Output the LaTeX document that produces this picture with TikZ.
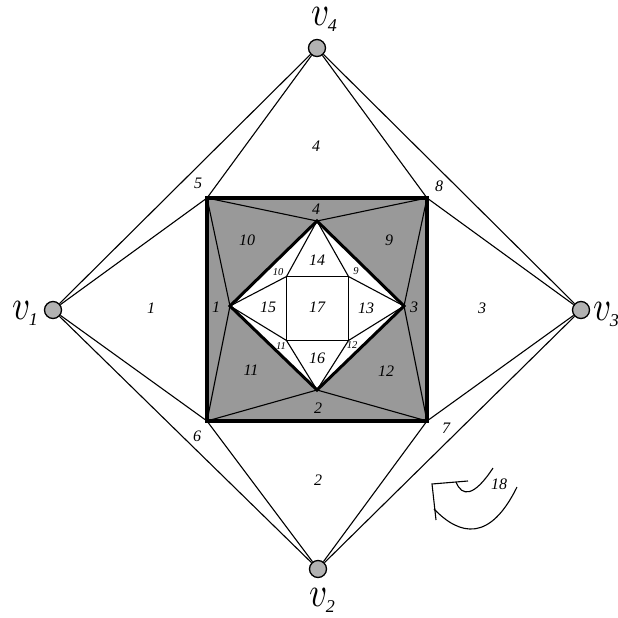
\documentclass[tikz,border=0pt]{standalone}
\usepackage{fontspec}
\setmainfont{Liberation Serif}
\usepackage{graphicx}
\usepackage{tikz}
\usetikzlibrary{positioning}

\newcommand{\vname}[1]{\scalebox{3.5}[4.2]{$v$}\kern-1.5pt\raisebox{-6pt}{\fontsize{18}{20}\selectfont\itshape #1}}

\begin{document}
\begin{tikzpicture}[
    x=1pt, y=-1pt,
    vert/.style={circle, draw=black, fill=black!30, line width=1.3pt,
                 inner sep=0pt, minimum size=17pt},
    link/.style={line width=1.1pt},
    heavy/.style={line width=3.4pt, line join=miter},
    face/.style={inner sep=0pt, font=\fontsize{16}{18}\selectfont\itshape},
    small face/.style={inner sep=0pt, font=\fontsize{10.5}{12}\selectfont\itshape},
    vlabel/.style={inner sep=0pt, anchor=base west}
  ]
  \useasboundingbox (0,0) rectangle (618,618);

  \coordinate (tl) at (207,198);
  \coordinate (tr) at (427,198);
  \coordinate (br) at (427,421);
  \coordinate (bl) at (207,421);

  \coordinate (dt) at (317,221);
  \coordinate (dl) at (230,306);
  \coordinate (dr) at (404,306);
  \coordinate (db) at (317,390);

  \coordinate (stl) at (286.5,276.5);
  \coordinate (str) at (348.5,276.5);
  \coordinate (sbr) at (348.5,340.5);
  \coordinate (sbl) at (286.5,340.5);

  % shaded ring
  \fill[black!40, even odd rule] (tl) -- (tr) -- (br) -- (bl) -- cycle
    (dt) -- (dr) -- (db) -- (dl) -- cycle;

  \node[vert] (v1) at (53,310) {};
  \node[vert] (v2) at (318,569) {};
  \node[vert] (v3) at (581,310) {};
  \node[vert] (v4) at (317,48) {};

  % outer edges
  \draw[link] (v1) -- (v4);
  \draw[link] (v1) -- (tl);
  \draw[link] (v4) -- (tl);
  \draw[link] (v4) -- (tr);
  \draw[link] (v4) -- (v3);
  \draw[link] (v3) -- (tr);
  \draw[link] (v3) -- (br);
  \draw[link] (v3) -- (v2);
  \draw[link] (v2) -- (br);
  \draw[link] (v2) -- (bl);
  \draw[link] (v2) -- (v1);
  \draw[link] (v1) -- (bl);

  % ring edges
  \draw[link] (tl) -- (dt);
  \draw[link] (tr) -- (dt);
  \draw[link] (tl) -- (dl);
  \draw[link] (bl) -- (dl);
  \draw[link] (tr) -- (dr);
  \draw[link] (br) -- (dr);
  \draw[link] (bl) -- (db);
  \draw[link] (br) -- (db);

  % inner edges
  \draw[link] (stl) -- (str) -- (sbr) -- (sbl) -- cycle;
  \draw[link] (dt) -- (stl);
  \draw[link] (dt) -- (str);
  \draw[link] (dr) -- (str);
  \draw[link] (dr) -- (sbr);
  \draw[link] (db) -- (sbr);
  \draw[link] (db) -- (sbl);
  \draw[link] (dl) -- (sbl);
  \draw[link] (dl) -- (stl);

  \draw[heavy] (tl) -- (tr) -- (br) -- (bl) -- cycle;
  \draw[heavy, line width=3pt] (dt) -- (dr) -- (db) -- (dl) -- cycle;

  % outer faces
  \node[face] (f1) at (151,308) {1};
  \node[face] (f2) at (318,480) {2};
  \node[face] (f3) at (482,308) {3};
  \node[face] (f4) at (316,146) {4};
  \node[face] (f5) at (198,183) {5};
  \node[face] (f6) at (197,436) {6};
  \node[face] (f7) at (446,428) {7};
  \node[face] (f8) at (439,186) {8};

  % ring faces
  \node[face] (g1) at (216,307) {1};
  \node[face] (g2) at (318,408) {2};
  \node[face] (g3) at (414,307) {3};
  \node[face] (g4) at (316,209) {4};
  \node[face] (g9) at (389,240) {9};
  \node[face] (g10) at (247,240) {10};
  \node[face] (g11) at (251,370) {11};
  \node[face] (g12) at (386,371) {12};

  % inner faces
  \node[face] (f13) at (366,308) {13};
  \node[face] (f14) at (317,260) {14};
  \node[face] (f15) at (268,307) {15};
  \node[face] (f16) at (317,358) {16};
  \node[face] (f17) at (317,307) {17};
  \node[small face] (h9) at (356,271) {9};
  \node[small face] (h10) at (278,272) {10};
  \node[small face] (h11) at (281,346) {11};
  \node[small face] (h12) at (352,345) {12};

  \node[vlabel] (n1) at (12,319) {\vname{1}};
  \node[vlabel] (n2) at (309,606) {\vname{2}};
  \node[vlabel] (n3) at (593,320) {\vname{3}};
  \node[vlabel] (n4) at (311,26) {\vname{4}};

  % outer face marker
  \coordinate (a1) at (468,481);
  \coordinate (a2) at (432,484);
  \coordinate (a3) at (436,520);
  \draw[link] (a1) -- (a2) -- (a3);
  \coordinate (b1) at (456,482);
  \coordinate (b2) at (493,468);
  \draw[link] (b1) .. controls (462,497) and (474,497) .. (b2);
  \coordinate (c1) at (434,509);
  \coordinate (c2) at (517,487);
  \draw[link] (c1) .. controls (460,536) and (490,542) .. (c2);
  \node[face] (f18) at (499,484) {18};
\end{tikzpicture}
\end{document}
